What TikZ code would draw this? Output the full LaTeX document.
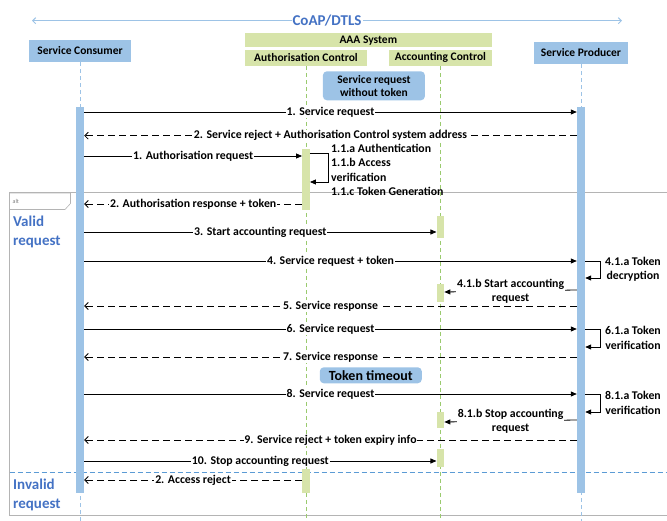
\documentclass[tikz,border=0pt]{standalone}
\usepackage{fontspec}
\setmainfont{Carlito}
\usetikzlibrary{positioning,calc,arrows.meta}
\definecolor{seqBlue}{HTML}{9DC3E6}
\definecolor{seqGreen}{HTML}{D7E4AA}
\definecolor{seqGreenLine}{HTML}{9ACA6E}
\definecolor{seqInk}{HTML}{4472C4}
\definecolor{seqFrame}{HTML}{B4B4B4}
\definecolor{seqSplit}{HTML}{5B9BD5}
\tikzset{
    seqBoxBase/.style={
        rectangle,
        inner sep=0pt,
        font=\bfseries\fontsize{11.5}{13}\selectfont,
        align=center
    },
    % Heads and notes
    seqActor/.style={seqBoxBase, fill=seqBlue},
    seqAAA/.style={seqBoxBase, fill=seqGreen},
    seqNote/.style={seqBoxBase, fill=seqBlue, rounded corners=4pt},
    % Activation bars
    seqBarBlue/.style={rectangle, fill=seqBlue, minimum width=8pt, inner sep=0pt},
    seqBarGreen/.style={rectangle, fill=seqGreen, minimum width=7.5pt, inner sep=0pt},
    % Lifelines
    seqLifeBlue/.style={draw=seqBlue, dash pattern=on 4pt off 3pt, line width=0.8pt},
    seqLifeGreen/.style={draw=seqGreenLine, dash pattern=on 4pt off 3pt, line width=0.8pt},
    % Arrows
    seqCall/.style={-{Triangle[length=6pt,width=5pt]}, line width=0.8pt},
    seqReply/.style={-{Straight Barb[length=3.5pt,width=7pt]}, dash pattern=on 7pt off 4pt, line width=0.8pt},
    seqLabel/.style={fill=white, inner sep=0.8pt, font=\bfseries\fontsize{11.8}{14}\selectfont},
    seqSide/.style={inner sep=0pt, align=left, font=\bfseries\fontsize{11.8}{14.5}\selectfont},
    seqGuard/.style={text=seqInk, font=\bfseries\fontsize{15}{19.5}\selectfont, align=left, inner sep=0pt, anchor=west}
}
\begin{document}
\begin{tikzpicture}[x=1pt, y=-1pt]
    \useasboundingbox (0,0) rectangle (667,521);

    % protocol span
    \coordinate (coapL) at (32,20.7);
    \coordinate (coapR) at (622,20.7);
    \draw[{Straight Barb[length=3pt,width=6pt]}-{Straight Barb[length=3pt,width=6pt]}, seqBlue, line width=1pt]
        (coapL) -- node[fill=white, inner sep=1pt, text=seqInk, font=\bfseries\fontsize{15}{17}\selectfont] (coap) {CoAP/DTLS} (coapR);

    % heads
    \node[seqActor, minimum width=102pt, minimum height=22pt] (cons) at (80,51) {Service Consumer};
    \node[seqActor, minimum width=94pt, minimum height=22pt] (prod) at (581,53) {Service Producer};
    \node[seqAAA, minimum width=247pt, minimum height=14.5pt] (aaa) at (368.3,40.2) {AAA System};
    \node[seqAAA, minimum width=122.5pt, minimum height=15.7pt] (authc) at (306,57.9) {Authorisation Control};
    \node[seqAAA, minimum width=102.7pt, minimum height=15.7pt] (acctc) at (440.4,57.9) {Accounting Control};

    % alt frame
    \coordinate (altNW) at (9.5,193);
    \coordinate (altSE) at (680,515);
    \draw[seqFrame, line width=1pt] (altNW) rectangle (altSE);
    \draw[seqFrame, line width=0.6pt] (altNW) -- ++(61,0) -- ++(0,10.5) -- ++(-5.5,6) -| (altNW);
    \node[text=seqFrame!70!black, font=\fontsize{6}{7}\selectfont, anchor=west, inner sep=0pt] (altTag) at (12.5,201) {alt};
    \node[seqGuard] (guardA) at (13,232) {Valid\\request};
    \node[seqGuard] (guardB) at (13,495) {Invalid\\request};
    \coordinate (splitL) at (9.5,472);
    \coordinate (splitR) at (680,472);
    \draw[seqSplit, dash pattern=on 5pt off 3pt, line width=1pt] (splitL) -- (splitR);

    % lifelines
    \draw[seqLifeBlue] (cons.south) -- (cons.south |- 0,521);
    \draw[seqLifeBlue] (prod.south) -- (prod.south |- 0,521);
    \draw[seqLifeGreen] (authc.south) -- (authc.south |- 0,521);
    \draw[seqLifeGreen] (acctc.south) -- (acctc.south |- 0,521);

    % activation bars
    \node[seqBarBlue, anchor=north, minimum height=386.3pt] (cBar) at (cons.south |- 0,106.7) {};
    \node[seqBarBlue, anchor=north, minimum height=386.3pt] (pBar) at (prod.south |- 0,106.7) {};
    \foreach \name/\top/\bot in {aBarA/149/210, aBarB/469/493} {
        \node[seqBarGreen, anchor=north, minimum height={(\bot-\top)*1pt}] (\name) at (authc.south |- 0,\top) {};
    }
    \foreach \name/\top/\bot in {kBarA/216/238, kBarB/284/302, kBarC/412/428, kBarD/449/467} {
        \node[seqBarGreen, anchor=north, minimum height={(\bot-\top)*1pt}] (\name) at (acctc.south |- 0,\top) {};
    }

    % notes
    \node[seqNote, minimum width=102pt, minimum height=29pt] (noteA) at (373.9,85.8) {Service request\\without token};
    \node[seqNote, minimum width=102pt, minimum height=16pt, font=\bfseries\fontsize{14}{16}\selectfont] (noteB) at (370.8,375.3) {Token timeout};

    % calls
    \foreach \y/\from/\to/\txt [count=\i] in {
        112/cBar.east/pBar.west/1. Service request,
        156/cBar.east/aBarA.west/1. Authorisation request,
        232/cBar.east/kBarA.west/3. Start accounting request,
        261/cBar.east/pBar.west/4. Service request + token,
        329/cBar.east/pBar.west/6. Service request,
        394/cBar.east/pBar.west/8. Service request,
        461/cBar.east/kBarD.west/10. Stop accounting request} {
        \draw[seqCall] (\from |- 0,\y) -- node[seqLabel] (call\i) {\txt} (\to |- 0,\y);
    }

    % replies
    \foreach \y/\from/\to/\txt [count=\i] in {
        135.7/pBar.west/cBar.east/2. Service reject + Authorisation Control system address,
        204/aBarA.west/cBar.east/2. Authorisation response + token,
        306/pBar.west/cBar.east/5. Service response,
        357/pBar.west/cBar.east/7. Service response,
        440/pBar.west/cBar.east/9. Service reject + token expiry info,
        480/aBarB.west/cBar.east/2. Access reject} {
        \draw[seqReply] (\from |- 0,\y) -- node[seqLabel] (reply\i) {\txt} (\to |- 0,\y);
    }

    % self calls
    \draw[seqCall] (aBarA.east |- 0,153) -- ++(18,0) |- (aBarA.east |- 0,182);
    \node[seqSide, anchor=west] (selfA) at (331,170) {1.1.a Authentication\\1.1.b Access\\verification\\1.1.c Token Generation};
    \foreach \top/\bot/\txt [count=\i] in {261/278/{4.1.a Token\\decryption}, 329/347/{6.1.a Token\\verification}, 394/412/{8.1.a Token\\verification}} {
        \draw[seqCall] (pBar.east |- 0,\top) -- ++(15,0) |- (pBar.east |- 0,\bot);
        \node[seqSide, align=center] (selfP\i) at (633,{(\top+\bot)/2}) {\txt};
    }

    % producer to accounting
    \draw[seqCall] (pBar.west |- 0,290) -- node[seqLabel, align=center] (sideA) {4.1.b Start accounting\\request} (kBarB.east |- 0,292);
    \draw[seqCall] (pBar.west |- 0,420) -- node[seqLabel, align=center] (sideB) {8.1.b Stop accounting\\request} (kBarC.east |- 0,422);
\end{tikzpicture}
\end{document}
